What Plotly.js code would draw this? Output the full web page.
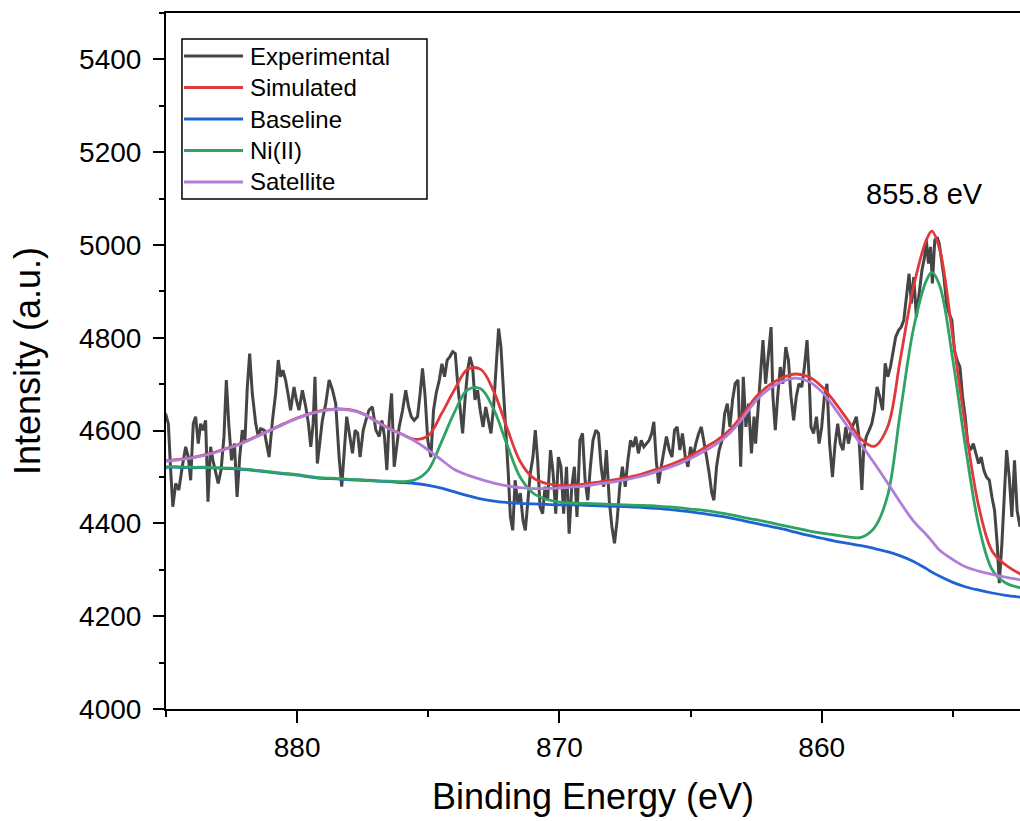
<!DOCTYPE html>
<html><head><meta charset="utf-8">
<script src="https://cdn.plot.ly/plotly-3.0.1.min.js"></script>
<style>html,body{margin:0;padding:0;background:#fff;overflow:hidden}</style>
</head><body><div id="chart" style="width:1020px;height:821px"></div>
<script>
// ---------- data ----------
const expEnergy = [885.02,884.91,884.83,884.74,884.63,884.51,884.38,884.25,884.15,884.06,883.96,883.87,883.77,883.68,883.59,883.49,883.40,883.30,883.21,883.11,883.01,882.90,882.79,882.70,882.60,882.50,882.39,882.29,882.19,882.09,881.99,881.90,881.81,881.71,881.58,881.48,881.39,881.26,881.17,881.07,880.94,880.82,880.72,880.63,880.54,880.44,880.33,880.25,880.12,880.03,879.93,879.80,879.67,879.57,879.48,879.39,879.32,879.23,879.14,879.04,878.91,878.78,878.65,878.53,878.40,878.30,878.20,878.11,877.99,877.89,877.79,877.69,877.60,877.48,877.38,877.26,877.13,877.00,876.87,876.77,876.67,876.58,876.49,876.40,876.30,876.21,876.11,875.98,875.86,875.75,875.65,875.54,875.41,875.31,875.22,875.12,875.02,874.90,874.80,874.70,874.58,874.48,874.38,874.28,874.18,874.07,873.97,873.88,
873.78,873.69,873.60,873.50,873.41,873.31,873.22,873.12,873.02,872.91,872.81,872.71,872.61,872.51,872.41,872.32,872.23,872.13,872.04,871.95,871.87,871.78,871.69,871.59,871.49,871.39,871.30,871.21,871.11,871.01,870.92,870.83,870.74,870.64,870.55,870.45,870.34,870.24,870.14,870.04,869.94,869.84,869.73,869.63,869.53,869.43,869.33,869.22,869.12,869.02,868.92,868.82,868.72,868.61,868.51,868.41,868.31,868.21,868.10,868.00,867.90,867.80,867.70,867.60,867.49,867.39,867.29,867.19,867.09,866.99,866.88,866.78,866.68,866.58,866.48,866.40,866.31,866.22,866.12,866.02,865.92,865.81,865.71,865.61,865.51,865.41,865.31,865.20,865.10,865.00,864.90,864.80,864.69,864.59,864.49,864.39,864.29,864.19,864.11,864.01,863.91,863.80,863.70,863.60,863.50,863.40,863.30,863.19,863.09,862.99,862.89,862.79,862.68,862.58,
862.52,862.43,862.34,862.24,862.14,862.04,861.93,861.86,861.77,861.68,861.58,861.48,861.37,861.27,861.17,861.07,860.97,860.87,860.76,860.66,860.56,860.48,860.41,860.31,860.20,860.10,860.00,859.90,859.80,859.70,859.59,859.49,859.39,859.29,859.19,859.08,858.98,858.88,858.78,858.68,858.58,858.47,858.40,858.30,858.19,858.09,857.99,857.89,857.79,857.68,857.58,857.48,857.38,857.28,857.18,857.07,856.97,856.87,856.77,856.67,856.58,856.49,856.39,856.29,856.18,856.08,856.01,855.93,855.85,855.78,855.69,855.60,855.52,855.43,855.34,855.24,855.14,855.04,854.94,854.84,854.73,854.63,854.53,854.43,854.33,854.22,854.12,854.02,853.92,853.82,853.72,853.61,853.51,853.41,853.31,853.23,853.13,853.03,852.95,852.85,852.75,852.65,852.55,852.44];
const expIntensity = [4637,4615,4522,4436,4486,4472,4522,4565,4543,4493,4615,4630,4572,4615,4601,4622,4447,4565,4536,4508,4486,4515,4587,4709,4608,4536,4572,4457,4543,4601,4579,4694,4766,4680,4615,4587,4604,4601,4572,4543,4622,4680,4752,4716,4730,4709,4673,4644,4694,4666,4644,4687,4651,4615,4565,4615,4716,4529,4572,4622,4658,4709,4687,4658,4543,4479,4558,4630,4587,4551,4601,4594,4543,4601,4622,4644,4651,4601,4587,4622,4587,4515,4622,4680,4522,4565,4608,4644,4687,4651,4630,4622,4630,4680,4734,4673,4579,4543,4644,4680,4709,4744,4716,4752,4759,4770,4766,4701,
4637,4594,4666,4730,4759,4737,4666,4687,4644,4608,4651,4622,4594,4651,4745,4820,4780,4687,4608,4508,4414,4385,4493,4443,4465,4407,4385,4450,4508,4543,4601,4536,4436,4421,4479,4450,4558,4508,4421,4543,4522,4421,4522,4378,4479,4522,4414,4579,4594,4493,4450,4522,4579,4601,4594,4522,4479,4558,4450,4393,4357,4407,4479,4522,4479,4536,4579,4565,4587,4551,4579,4565,4572,4579,4594,4619,4536,4486,4522,4558,4587,4558,4543,4601,4608,4558,4594,4543,4522,4565,4543,4572,4594,4608,4579,4543,4508,4465,4450,4522,4558,4579,4637,4658,4608,4666,4701,4709,4522,4716,4608,4658,4551,4630,
4572,4644,4716,4795,4701,4766,4823,4673,4601,4673,4737,4701,4780,4752,4673,4622,4673,4701,4694,4737,4795,4716,4608,4594,4630,4572,4608,4673,4701,4572,4500,4572,4615,4572,4558,4608,4572,4601,4615,4630,4587,4472,4558,4587,4601,4615,4644,4694,4673,4644,4745,4716,4737,4773,4802,4816,4823,4838,4888,4938,4874,4931,4845,4895,4945,4974,5010,4960,4996,4917,5010,5017,5003,4967,4931,4874,4852,4838,4773,4752,4737,4673,4630,4572,4558,4572,4551,4529,4543,4515,4500,4493,4457,4428,4357,4271,4357,4464,4558,4500,4414,4536,4428,4393];

const fitEnergy = [885,884.5,884,883.5,883,882.5,882,881.5,881,880.5,880,879.5,879,878.5,878,877.5,877,876.5,876,875.5,875,874.5,874,873.5,873,872.5,872,871.5,871,870.5,870,869.5,869,868.5,868,867.5,867,866.5,866,865.5,865,864.5,864,863.5,863,862.5,862,861.5,861,860.5,860,859.5,859,858.5,858,857.5,857,856.5,856,855.8,855.5,855,854.5,854,853.5,853,852.4];
const simulated = [4535,4538,4542,4548,4556,4565,4576,4589,4602,4615,4627,4637,4644,4647,4645,4637,4621,4605,4592,4581,4589,4636,4688,4732,4732,4684,4606,4534,4498,4486,4482,4482,4485,4489,4493,4498,4504,4513,4522,4533,4546,4562,4579,4602,4635,4673,4698,4714,4722,4716,4695,4661,4622,4582,4566,4606,4755,4910,5012,5030,4990,4801,4601,4433,4340,4311,4290];
const baseline = [4521,4521,4520,4520,4519,4518,4516,4513,4510,4507,4504,4500,4497,4496,4494,4493,4491,4490,4488,4486,4482,4476,4468,4460,4453,4448,4445,4443,4442,4441,4440,4440,4439,4438,4437,4436,4435,4433,4431,4428,4425,4421,4417,4412,4406,4400,4394,4388,4381,4374,4368,4362,4357,4352,4346,4339,4330,4318,4302,4295,4286,4273,4263,4256,4250,4245,4241];
const niII = [4522,4522,4521,4521,4520,4519,4517,4514,4511,4508,4505,4501,4498,4497,4495,4494,4492,4491,4490,4494,4515,4575,4640,4688,4690,4645,4570,4500,4465,4452,4446,4444,4443,4442,4441,4440,4439,4438,4436,4434,4431,4428,4424,4419,4413,4408,4402,4396,4390,4384,4379,4375,4371,4370,4390,4457,4640,4820,4925,4941,4912,4752,4558,4392,4300,4272,4261];
const satellite = [4534,4537,4541,4547,4555,4564,4575,4588,4601,4614,4626,4636,4643,4646,4644,4636,4620,4604,4592,4577,4558,4537,4516,4504,4495,4487,4481,4477,4475,4475,4476,4478,4481,4485,4489,4494,4500,4508,4517,4527,4540,4555,4572,4595,4628,4665,4690,4706,4713,4706,4684,4648,4608,4570,4530,4488,4445,4405,4375,4362,4342,4322,4306,4297,4290,4284,4278];

const seriesNames = ['Experimental','Simulated','Baseline','Ni(II)','Satellite'];
const seriesColors = ['#454545','#e0393b','#1f63d3','#2ea363','#b07ed8'];
const xTickVals = [880,870,860];
const yTickVals = [4000,4200,4400,4600,4800,5000,5200,5400];
const peakLabel = '855.8 eV';
const peakLabelPos = [856.1, 5110];

// ---------- traces ----------
const FONT = 'Liberation Sans, Arial, sans-serif';
const fitSeries = {Simulated: simulated, Baseline: baseline, 'Ni(II)': niII, Satellite: satellite};
const drawOrder = ['Experimental','Simulated','Baseline','Ni(II)','Satellite'];
const traces = drawOrder.map(name => {
  const c = seriesColors[seriesNames.indexOf(name)];
  if (name === 'Experimental') {
    return {x: expEnergy, y: expIntensity, type: 'scatter', mode: 'lines', name,
            line: {color: c, width: 3}, showlegend: false, hoverinfo: 'skip'};
  }
  return {x: fitEnergy, y: fitSeries[name], type: 'scatter', mode: 'lines', name,
          line: {color: c, width: 2.8, shape: 'spline', smoothing: 1}, showlegend: false, hoverinfo: 'skip'};
});

// ---------- custom legend (Origin style) ----------
const shapes = [{type: 'rect', xref: 'paper', yref: 'paper', x0: 0.0187, x1: 0.3056, y0: 0.7328, y1: 0.9626,
                 line: {color: '#000', width: 1.5}, fillcolor: 'rgba(255,255,255,1)', layer: 'above'}];
const annotations = [];
seriesNames.forEach((n, i) => {
  const yy = 0.9382 - i * 0.04525;
  shapes.push({type: 'line', xref: 'paper', yref: 'paper', x0: 0.0211, x1: 0.0902, y0: yy, y1: yy,
               line: {color: seriesColors[i], width: 3}, layer: 'above'});
  annotations.push({xref: 'paper', yref: 'paper', x: 0.0965, y: yy, text: n, showarrow: false,
                    xanchor: 'left', yanchor: 'middle', font: {family: FONT, size: 24, color: '#000'}});
});
annotations.push({xref: 'x', yref: 'y', x: peakLabelPos[0], y: peakLabelPos[1], text: peakLabel, showarrow: false,
                  xanchor: 'center', yanchor: 'middle', font: {family: FONT, size: 29, color: '#000'}});

const layout = {
  width: 1020, height: 821,
  margin: {l: 166, r: 0, t: 13, b: 112, pad: 0},
  paper_bgcolor: '#fff', plot_bgcolor: '#fff',
  font: {family: FONT, color: '#000'},
  showlegend: false,
  xaxis: {
    range: [885, 852.44], tickmode: 'array', tickvals: xTickVals, ticks: 'outside', ticklen: 12, tickwidth: 2,
    tickcolor: '#000', showline: true, linewidth: 2, linecolor: '#000', mirror: true,
    showgrid: false, zeroline: false, tickfont: {size: 28, family: FONT},
    minor: {ticks: 'outside', tick0: 885, dtick: 10, ticklen: 6, tickwidth: 2, tickcolor: '#000', showgrid: false},
    title: {text: 'Binding Energy (eV)', font: {size: 36, family: FONT}, standoff: 22},
    automargin: false
  },
  yaxis: {
    range: [4000, 5500], tickmode: 'array', tickvals: yTickVals, ticks: 'outside', ticklen: 11, tickwidth: 2,
    tickcolor: '#000', showline: true, linewidth: 2, linecolor: '#000', mirror: false,
    showgrid: false, zeroline: false, tickfont: {size: 28, family: FONT}, ticklabelstandoff: 6,
    minor: {ticks: 'outside', tick0: 4100, dtick: 200, ticklen: 5, tickwidth: 2, tickcolor: '#000', showgrid: false},
    title: {text: 'Intensity (a.u.)', font: {size: 36, family: FONT}, standoff: 28},
    automargin: false
  },
  shapes, annotations
};
Plotly.newPlot('chart', traces, layout, {displayModeBar: false, staticPlot: true});
</script></body></html>
